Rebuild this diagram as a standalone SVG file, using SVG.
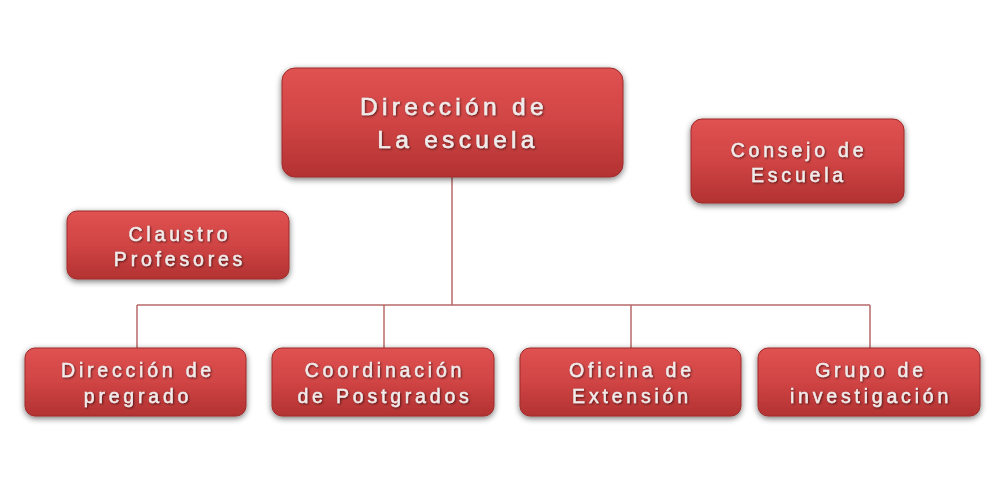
<svg xmlns="http://www.w3.org/2000/svg" width="1000" height="500" viewBox="0 0 1000 500">
<defs>
<linearGradient id="g" x1="0" y1="0" x2="0" y2="1">
<stop offset="0" stop-color="#e05252"/>
<stop offset="0.5" stop-color="#d04444"/>
<stop offset="1" stop-color="#b33232"/>
</linearGradient>
<filter id="sh" x="-10%" y="-20%" width="120%" height="150%">
<feGaussianBlur in="SourceAlpha" stdDeviation="3"/>
<feOffset dx="0" dy="2" result="b"/>
<feComponentTransfer><feFuncA type="linear" slope="0.55"/></feComponentTransfer>
<feMerge><feMergeNode/><feMergeNode in="SourceGraphic"/></feMerge>
</filter>
<filter id="ts" x="-5%" y="-20%" width="110%" height="140%">
<feGaussianBlur in="SourceAlpha" stdDeviation="1"/>
<feOffset dx="1" dy="1"/>
<feComponentTransfer><feFuncA type="linear" slope="0.6"/></feComponentTransfer>
<feMerge><feMergeNode/><feMergeNode in="SourceGraphic"/></feMerge>
</filter>
</defs>
<style>
.box{fill:url(#g);stroke:#9e2a2a;stroke-width:1;filter:url(#sh)}
.t{font-family:"Liberation Sans",Arial,sans-serif;fill:#f0ecec;stroke:#f0ecec;stroke-width:0.45;text-anchor:middle;font-size:19.5px;letter-spacing:3.8px;filter:url(#ts)}
.big{font-size:24.5px;letter-spacing:4.3px;stroke-width:0.55}
.c{stroke:#b86a6a;stroke-width:1.5;fill:none}
</style>
<rect width="1000" height="500" fill="#ffffff"/>
<g id="connectors">
<path class="c" d="M452 177V305M137 305H870M137 305V348M384 305V348M631 305V348M870 305V348"/>
</g>
<g id="direccion-escuela">
<rect class="box" x="282" y="68" width="341" height="109" rx="13"/>
<text class="t big" x="454" y="115">Dirección de</text>
<text class="t big" x="458" y="148">La escuela</text>
</g>
<g id="consejo">
<rect class="box" x="691" y="119" width="213" height="84" rx="11"/>
<text class="t" x="799" y="157">Consejo de</text>
<text class="t" x="799" y="182">Escuela</text>
</g>
<g id="claustro">
<rect class="box" x="67" y="211" width="222" height="68" rx="10"/>
<text class="t" x="180" y="241">Claustro</text>
<text class="t" x="180" y="266">Profesores</text>
</g>
<g id="pregrado">
<rect class="box" x="25" y="348" width="221" height="68" rx="10"/>
<text class="t" x="138" y="377">Dirección de</text>
<text class="t" x="138" y="403">pregrado</text>
</g>
<g id="postgrados">
<rect class="box" x="272" y="348" width="222" height="68" rx="10"/>
<text class="t" x="385" y="377">Coordinación</text>
<text class="t" x="385" y="403">de Postgrados</text>
</g>
<g id="extension">
<rect class="box" x="520" y="348" width="221" height="68" rx="10"/>
<text class="t" x="632" y="377">Oficina de</text>
<text class="t" x="632" y="403">Extensión</text>
</g>
<g id="investigacion">
<rect class="box" x="758" y="348" width="222" height="68" rx="10"/>
<text class="t" x="871" y="377">Grupo de</text>
<text class="t" x="871" y="403">investigación</text>
</g>
</svg>
